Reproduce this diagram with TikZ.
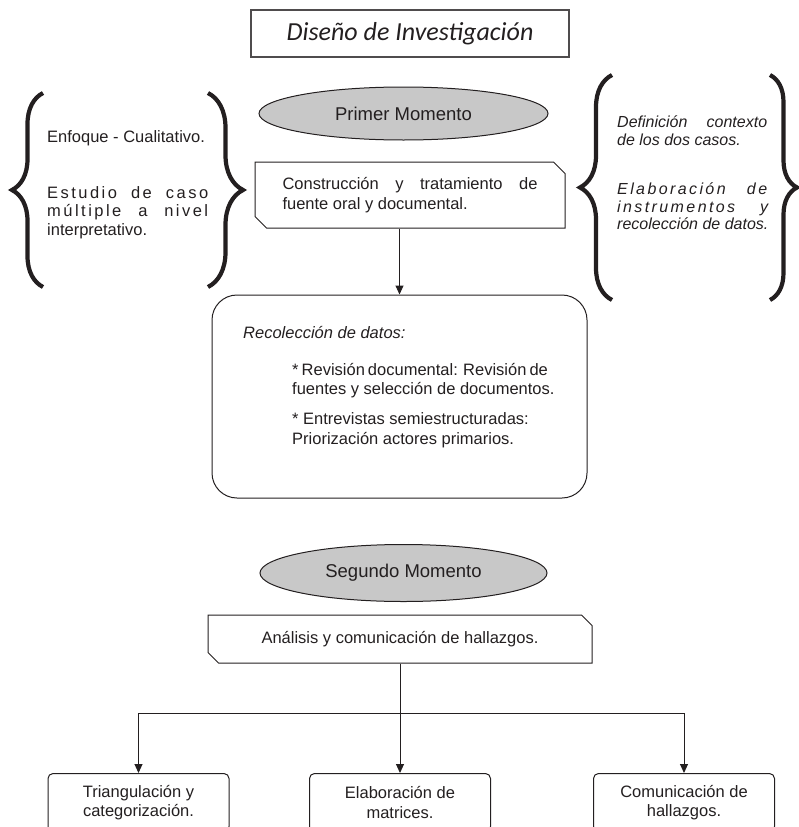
\documentclass[tikz,border=0pt]{standalone}
\usepackage{fontspec}
\setmainfont{Liberation Sans}
\newfontfamily\titlefont{Carlito}
\usetikzlibrary{positioning}
\usetikzlibrary{arrows.meta}
\usetikzlibrary{shapes.geometric}
\usetikzlibrary{shapes.misc}
\usetikzlibrary{decorations.pathreplacing}
\definecolor{ink}{RGB}{35,31,32}
\definecolor{ovalgray}{RGB}{200,200,200}
\newcommand\fillline[2]{\makebox[#1][s]{#2}}
\newcommand\wideline[2]{\makebox[#1][s]{\addfontfeature{LetterSpace=15}#2}}

\begin{document}
\begin{tikzpicture}[x=1pt, y=-1pt,
        every node/.style={text=ink},
        txt/.style={font=\fontsize{16.5}{19.5}\selectfont},
        oval/.style={ellipse, draw=ink, line width=1pt, fill=ovalgray, font=\fontsize{18.5}{22}\selectfont},
        cutbox/.style={chamfered rectangle, chamfered rectangle corners={north east, south west}, chamfered rectangle xsep=8pt, draw=ink, line width=1pt, txt},
        roundbox/.style={rectangle, rounded corners=25pt, draw=ink, line width=1pt},
        leafbox/.style={rectangle, rounded corners=5pt, draw=ink, line width=1pt, anchor=north, minimum width=181pt, minimum height=58pt, align=center, txt},
        curly/.style={decorate, draw=ink, line width=4.2pt},
        arr/.style={draw=ink, line width=1pt, -{Triangle[length=9pt,width=8pt]}},
    ]
    \useasboundingbox (0,0) rectangle (798,827);

    % Objects
    \node[draw=ink!80, line width=1.3pt, minimum width=318pt, minimum height=47pt, font=\titlefont\itshape\fontsize{26}{30}\selectfont] (titleBox) at (410,33.5) {Diseño de Investigación};

    \node[oval, minimum width=289pt, minimum height=53pt] (momentOne) at (403.5,113.5) {Primer Momento};
    \node[cutbox, minimum width=310pt, minimum height=66pt, align=left] (buildBox) at (410,195) {\fillline{255pt}{Construcción y tratamiento de}\\fuente oral y documental.};

    \node[roundbox, minimum width=375pt, minimum height=203pt] (dataBox) at (399.5,396.5) {};
    \node[txt, anchor=west, inner sep=0pt, font=\fontsize{16.5}{19.5}\selectfont\itshape] (dataTitle) at (243,333) {Recolección de datos:};
    \node[txt, anchor=north west, inner sep=0pt, align=left] (dataItems) at (292,363) {\fillline{255pt}{* Revisión documental: Revisión de}\\fuentes y selección de documentos.\\[10.5pt]* Entrevistas semiestructuradas:\\Priorización actores primarios.};

    % left brace
    \node[txt, anchor=west, inner sep=0pt] (leftOne) at (47,138) {Enfoque - Cualitativo.};
    \node[txt, anchor=north west, inner sep=0pt, align=left, font=\fontsize{16.5}{18.5}\selectfont] (leftTwo) at (47,186) {\wideline{161pt}{Estudio de caso}\\\wideline{161pt}{múltiple a nivel}\\interpretativo.};

    % right brace
    \node[anchor=north west, inner sep=0pt, align=left, font=\fontsize{16}{17.5}\selectfont\itshape] (rightOne) at (617,116) {\fillline{150pt}{Definición contexto}\\de los dos casos.};
    \node[anchor=north west, inner sep=0pt, align=left, font=\fontsize{16}{17.5}\selectfont\itshape] (rightTwo) at (617,183) {\wideline{150pt}{Elaboración de}\\\wideline{151pt}{instrumentos y}\\recolección de datos.};

    \node[oval, minimum width=287pt, minimum height=57pt] (momentTwo) at (403.5,573) {Segundo Momento};
    \node[cutbox, chamfered rectangle xsep=7pt, minimum width=384pt, minimum height=48pt] (analysisBox) at (400,639) {Análisis y comunicación de hallazgos.};

    \coordinate (split) at (400,713);
    \node[leafbox] (triBox) at (138.5,773) {Triangulación y\\categorización.};
    \node[leafbox] (matrixBox) at (400,773) {Elaboración de\\matrices.};
    \node[leafbox] (commBox) at (684,773) {Comunicación de\\hallazgos.};

    % Braces
    \draw[curly, decoration={brace, amplitude=31pt}] (43,287) -- (43,93);
    \draw[curly, decoration={brace, amplitude=35pt}] (208,93) -- (208,287);
    \draw[curly, decoration={brace, amplitude=32pt}] (612,300) -- (612,75);
    \draw[curly, decoration={brace, amplitude=27pt}] (770,75) -- (770,300);

    % Lines
    \draw[arr] (buildBox.south -| dataBox.north) -- (dataBox.north);
    \draw[draw=ink, line width=1pt] (analysisBox.south) -- (split);
    \draw[arr] (split) -| (triBox.north);
    \draw[arr] (split) -- (matrixBox.north);
    \draw[arr] (split) -| (commBox.north);

\end{tikzpicture}
\end{document}
